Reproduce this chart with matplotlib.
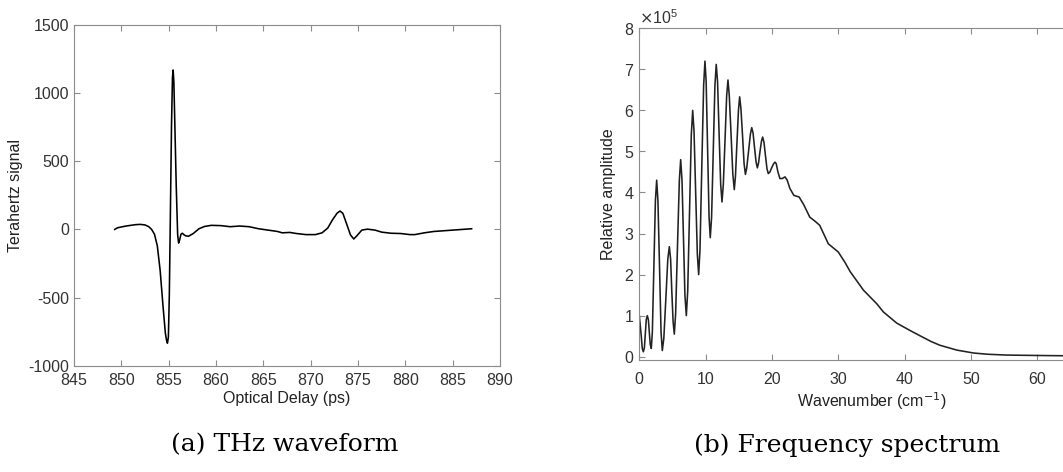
import numpy as np
import matplotlib.pyplot as plt
from matplotlib.ticker import ScalarFormatter

plt.rcParams['font.family'] = ['Liberation Sans', 'DejaVu Sans']
plt.rcParams['axes.unicode_minus'] = False

# (a) THz waveform
delay_ps = [849.3, 849.6, 850.0, 850.5, 851.0, 851.5, 852.0, 852.5, 852.9, 853.2,
            853.5, 853.8, 854.1, 854.4, 854.65, 854.78, 854.87, 854.97, 855.07, 855.17,
            855.3, 855.4, 855.47, 855.55, 855.65, 855.8, 855.95, 856.05, 856.15, 856.3,
            856.45, 856.6, 856.8, 857.1, 857.6, 858.2,
            858.8, 859.5, 860.5, 861.5, 862.5, 863.5, 864.5, 865.5, 866.5, 867.0,
            867.8, 868.5, 869.5, 870.5, 871.2, 871.8, 872.3, 872.8, 873.1, 873.4,
            873.8, 874.2, 874.55, 874.9, 875.4, 876.0, 876.8, 877.5, 878.5, 879.5,
            880.5, 881.0, 882.0, 883.0, 884.0, 885.0, 886.0, 887.0]
signal = [0, 12, 18, 25, 30, 35, 37, 33, 20, 0,
          -35, -120, -300, -560, -760, -815, -835, -790, -480, 50,
          760, 1110, 1170, 1080, 780, 320, -40, -100, -80, -35,
          -28, -38, -47, -50, -30, 5,
          22, 30, 28, 20, 25, 20, 5, -5, -15, -25,
          -22, -30, -38, -38, -25, 10, 70, 120, 135, 118,
          40, -40, -70, -45, -5, 2, -5, -20, -28, -30,
          -38, -38, -25, -15, -10, -5, 0, 5]

# (b) frequency spectrum (amplitude in units of 1e5)
wavenumber = [0.0, 0.3, 0.45, 0.61, 0.77, 0.91, 1.05, 1.21, 1.37, 1.51, 1.65, 1.81,
              1.97, 2.2, 2.43, 2.62, 2.81, 3.05, 3.28, 3.47,
              3.7, 4.0, 4.3, 4.53, 4.72, 4.9, 5.1, 5.28,
              5.48, 5.76, 6.04, 6.24, 6.44, 6.66, 6.88, 7.09,
              7.3, 7.57, 7.84, 8.05, 8.25, 8.5, 8.75, 8.95,
              9.15, 9.42, 9.7, 9.9, 10.08, 10.3, 10.52, 10.7,
              10.9, 11.15, 11.4, 11.6, 11.8, 12.03, 12.27, 12.47,
              12.67, 12.92, 13.17, 13.37, 13.57, 13.84, 14.1, 14.32,
              14.5, 14.72, 14.95, 15.13, 15.32, 15.56, 15.8, 16.0,
              16.2, 16.47, 16.75, 16.95, 17.15, 17.37, 17.6, 17.8,
              17.98, 18.2, 18.42, 18.6, 18.8, 19.02, 19.25, 19.45,
              19.7, 19.95, 20.25, 20.46, 20.65, 20.9, 21.2, 21.55, 21.97,
              22.3, 22.7, 23.3, 24.1, 24.8, 25.7, 26.5, 27.2, 28.5, 30.0,
              31.0, 31.8, 33.8, 35.8, 36.8, 38.8, 40.8, 42.8, 44.0, 45.3,
              47.9, 50.4, 52.5, 55.4, 60.0, 66.0]
amplitude = [1.0, 0.5, 0.2, 0.12, 0.22, 0.56, 0.9, 1.0, 0.9, 0.6, 0.3, 0.2,
             0.6, 2.2, 3.8, 4.3, 3.8, 2.2, 0.6, 0.15,
             0.45, 1.4, 2.38, 2.68, 2.38, 1.6, 0.85, 0.55,
             1.05, 2.7, 4.3, 4.8, 4.3, 2.9, 1.5, 1.0,
             1.6, 3.5, 5.4, 6.0, 5.5, 4.0, 2.5, 2.0,
             2.6, 4.6, 6.6, 7.2, 6.7, 5.05, 3.4, 2.9,
             3.4, 5.0, 6.6, 7.12, 6.7, 5.45, 4.2, 3.77,
             4.2, 5.25, 6.35, 6.74, 6.35, 5.4, 4.45, 4.07,
             4.4, 5.2, 6.0, 6.33, 6.05, 5.4, 4.7, 4.44,
             4.6, 5.0, 5.42, 5.58, 5.45, 5.1, 4.75, 4.6,
             4.72, 5.0, 5.25, 5.35, 5.22, 4.9, 4.58, 4.46,
             4.5, 4.6, 4.7, 4.74, 4.7, 4.5, 4.34, 4.34, 4.38,
             4.3, 4.1, 3.93, 3.89, 3.7, 3.4, 3.3, 3.2, 2.75, 2.55,
             2.3, 2.07, 1.62, 1.29, 1.09, 0.82, 0.64, 0.47, 0.37, 0.28,
             0.16, 0.09, 0.06, 0.04, 0.03, 0.02]
amplitude = [a * 1e5 for a in amplitude]

spine_gray = '#8c8c8c'
text_gray = '#333333'

fig = plt.figure(figsize=(10.63, 4.72), dpi=100)
ax1 = fig.add_axes([0.0696, 0.2252, 0.4008, 0.7218])
ax2 = fig.add_axes([0.6014, 0.2373, 0.4368, 0.7028])

for ax in (ax1, ax2):
    for s in ax.spines.values():
        s.set_color(spine_gray)
    ax.tick_params(direction='in', top=True, right=True, length=4,
                   color=spine_gray, labelcolor=text_gray, labelsize=11.5)
ax1.tick_params(axis='x', pad=5.5)
ax2.tick_params(axis='x', pad=9)

ax1.plot(delay_ps, signal, color='black', lw=1.15)
ax1.set_xlim(845, 890)
ax1.set_ylim(-1000, 1500)
ax1.set_xticks(np.arange(845, 891, 5))
ax1.set_yticks(np.arange(-1000, 1501, 500))
ax1.set_xlabel('Optical Delay (ps)', fontsize=11.5, color='#222222', labelpad=2)
ax1.set_ylabel('Terahertz signal', fontsize=11.5, color='#222222', labelpad=4)

ax2.plot(wavenumber, amplitude, color='#222222', lw=1.15)
ax2.set_xlim(0, 70)
ax2.set_ylim(-0.08e5, 8e5)
ax2.set_xticks(np.arange(0, 61, 10))
ax2.set_yticks(np.arange(0, 8.01e5, 1e5))
fmt = ScalarFormatter(useMathText=True)
fmt.set_powerlimits((0, 0))
ax2.yaxis.set_major_formatter(fmt)
ax2.yaxis.get_offset_text().set_fontsize(11.5)
ax2.yaxis.get_offset_text().set_color(text_gray)
ax2.set_xlabel('Wavenumber (cm$^{-1}$)', fontsize=11.5, color='#222222', labelpad=2)
ax2.set_ylabel('Relative amplitude', fontsize=11.5, color='#222222', labelpad=6)

fig.text(0.268, 0.057, '(a) THz waveform', family='DejaVu Serif', fontsize=18,
         ha='center', va='center', color='black')
fig.text(0.797, 0.057, '(b) Frequency spectrum', family='DejaVu Serif', fontsize=18,
         ha='center', va='center', color='black')

fig.savefig('out.png', dpi=100)
